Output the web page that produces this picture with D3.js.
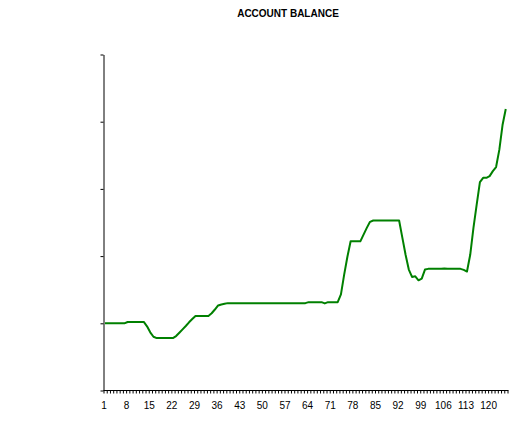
<!DOCTYPE html>
<html><head><meta charset="utf-8">
<script src="https://cdn.jsdelivr.net/npm/d3@7"></script>
<style>body{margin:0;background:#fff;} text{font-family:"Liberation Sans",Arial,sans-serif;}</style>
</head><body><svg id="c" width="532" height="429"></svg>
<script>
const title = "ACCOUNT BALANCE";
const balance = [
 1000,1000,1000,1000,1000,1000,1000,
 1020,1020,1020,1020,1020,1020,
 955,866,800,
 780,780,780,780,780,780,
 810,860,910,960,1015,1065,
 1110,1110,1110,1110,1110,
 1150,1205,1265,1280,1290,
 1300,1300,1300,1300,1300,1300,1300,1300,1300,1300,1300,1300,1300,1300,1300,1300,1300,1300,1300,1300,1300,1300,1300,1300,1300,
 1315,1315,1315,1315,1315,
 1296,
 1315,1315,1315,1315,
 1430,1725,1990,
 2220,2220,2220,2220,
 2320,2420,2510,
 2530,2530,2530,2530,2530,2530,2530,2530,2530,
 2275,2020,1800,1690,1700,1640,1665,1800,
 1810,1810,1810,1810,1810,1815,1810,1810,1810,1810,1810,
 1795,1770,2020,2420,2765,3100,3165,3165,3190,3265,3325,3580,3950,4190
];
const days = balance.map((d,i)=>i+1);
const xTicks = d3.range(1,127);
const xLabelStep = 7;
const yTicks = [0,1000,2000,3000,4000,5000];

const svg = d3.select("#c");
const x = d3.scaleLinear().domain([1,126]).range([103.5,507.5]);
const y = d3.scaleLinear().domain([0,5000]).range([390.5,54.5]);

svg.append("text").attr("x",288).attr("y",17).attr("text-anchor","middle")
  .attr("font-size","10px").attr("font-weight","bold").text(title);

const xa = svg.append("g").attr("transform","translate(0,390.5)")
  .call(d3.axisBottom(x).tickValues(xTicks).tickSize(3).tickSizeOuter(0).tickPadding(8)
    .tickFormat(d => (d-1)%xLabelStep===0 ? d : ""));
xa.select(".domain").attr("d","M103.5,0H508.5");
xa.selectAll("text").attr("font-size","10px").attr("fill","#000").attr("font-family","'Liberation Sans',Arial,sans-serif");
xa.selectAll("line").attr("stroke","#000");

const ya = svg.append("g").attr("transform","translate(103.5,0)")
  .call(d3.axisLeft(y).tickValues(yTicks).tickSize(3).tickSizeOuter(0).tickFormat(""));
ya.selectAll("line").attr("stroke","#000");
svg.selectAll(".domain").attr("stroke","#000");

const line = d3.line().x((d,i)=>x(days[i])+1.5).y(d=>y(d));
svg.append("path").datum(balance).attr("d",line).attr("fill","none")
  .attr("stroke","#008000").attr("stroke-width",2).attr("stroke-linejoin","round");
</script></body></html>
